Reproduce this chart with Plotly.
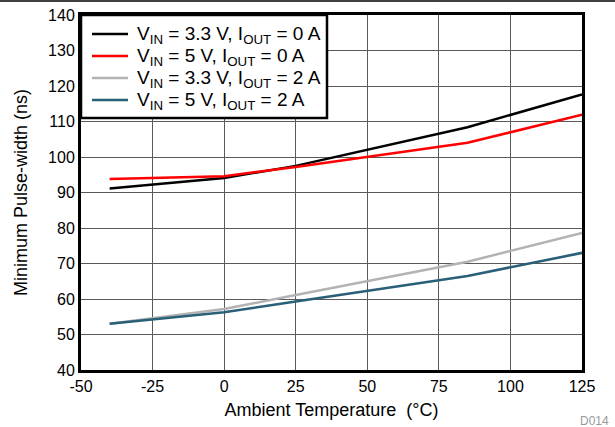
import plotly.graph_objects as go

# Minimum pulse-width vs ambient temperature
temp_c = [-40, 0, 25, 85, 125]
vin33_i0 = [91.1, 94.1, 97.5, 108.4, 117.6]
vin5_i0 = [93.8, 94.6, 97.2, 104.0, 111.9]
vin33_i2 = [53.0, 57.2, 61.1, 70.5, 78.6]
vin5_i2 = [53.0, 56.3, 59.3, 66.5, 73.0]

series_names = [
    "V<sub>IN</sub> = 3.3 V, I<sub>OUT</sub> = 0 A",
    "V<sub>IN</sub> = 5 V, I<sub>OUT</sub> = 0 A",
    "V<sub>IN</sub> = 3.3 V, I<sub>OUT</sub> = 2 A",
    "V<sub>IN</sub> = 5 V, I<sub>OUT</sub> = 2 A",
]
series_values = [vin33_i0, vin5_i0, vin33_i2, vin5_i2]
series_colors = ["#000000", "#ff0000", "#b3b3b3", "#2a5f78"]

x_ticks = [-50, -25, 0, 25, 50, 75, 100, 125]
y_ticks = [40, 50, 60, 70, 80, 90, 100, 110, 120, 130, 140]

FONT = "Liberation Sans, Arial, sans-serif"

fig = go.Figure()
for name, vals, col in zip(series_names, series_values, series_colors):
    fig.add_trace(go.Scatter(
        x=temp_c, y=vals, mode="lines", name=name,
        line=dict(color=col, width=2.5), showlegend=False,
    ))

W, H = 615, 427
ml, mr, mt, mb = 81, 33, 15, 57
pw, ph = W - ml - mr, H - mt - mb


def px_x(x):
    return (x - ml) / pw


def px_y(y):
    return (H - mb - y) / ph


axis_common = dict(
    showgrid=True, gridcolor="#5a5a5a", gridwidth=1,
    showline=True, linecolor="#000000", linewidth=3, mirror=True,
    zeroline=False, ticks="", automargin=False,
    tickfont=dict(family=FONT, size=16, color="#000000"),
)

fig.update_layout(
    width=W, height=H,
    autosize=False,
    margin=dict(l=ml, r=mr, t=mt, b=mb, pad=0, autoexpand=False),
    paper_bgcolor="#ffffff", plot_bgcolor="#ffffff",
    font=dict(family=FONT, color="#000000"),
    showlegend=False,
    xaxis=dict(
        range=[-50, 125], tickvals=x_ticks, ticktext=[str(v) for v in x_ticks],
        title=dict(text="Ambient Temperature  (°C)", font=dict(family=FONT, size=18), standoff=10),
        **axis_common,
    ),
    yaxis=dict(
        range=[40, 140], tickvals=y_ticks, ticktext=[str(v) for v in y_ticks],
        title=dict(text="Minimum Pulse-width (ns)", font=dict(family=FONT, size=18), standoff=16),
        **axis_common,
    ),
)

# legend box in the upper-left corner of the plot
fig.add_shape(
    type="rect", xref="paper", yref="paper",
    x0=px_x(81), x1=px_x(327), y0=px_y(118), y1=px_y(15),
    line=dict(color="#000000", width=2.5), fillcolor="#ffffff", layer="above",
)
for i, (name, col) in enumerate(zip(series_names, series_colors)):
    yc = 34 + 22 * i
    fig.add_shape(
        type="line", xref="paper", yref="paper",
        x0=px_x(92), x1=px_x(128), y0=px_y(yc), y1=px_y(yc),
        line=dict(color=col, width=2.5), layer="above",
    )
    fig.add_annotation(
        text=name, xref="paper", yref="paper",
        x=px_x(135), y=px_y(yc + 1), xanchor="left", yanchor="middle",
        showarrow=False, font=dict(family=FONT, size=19, color="#000000"),
    )

# thin rule across the top of the page
fig.add_shape(
    type="line", xref="paper", yref="paper",
    x0=-ml / pw, x1=(W - ml) / pw,
    y0=px_y(1), y1=px_y(1),
    line=dict(color="#000000", width=1.5),
)

fig.add_annotation(
    text="D014", xref="paper", yref="paper",
    x=px_x(611), y=px_y(421),
    xanchor="right", yanchor="middle", showarrow=False,
    font=dict(family=FONT, size=12, color="#999999"),
)

fig.write_html("out.html")
